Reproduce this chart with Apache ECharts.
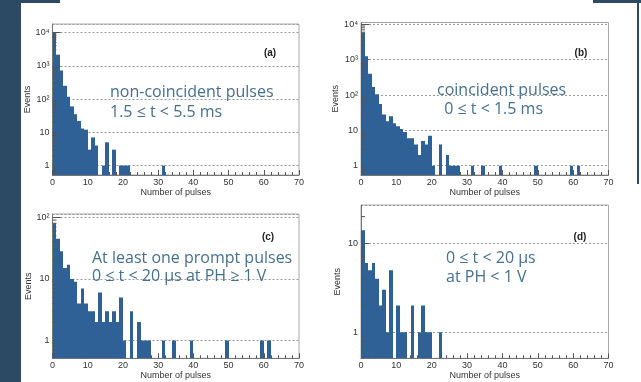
<!DOCTYPE html>
<html>
<head>
<meta charset="utf-8">
<script src="https://cdn.jsdelivr.net/npm/echarts@6/dist/echarts.min.js"></script>
<style>
  html, body { margin: 0; padding: 0; background: #fff; }
  #chart { width: 641px; height: 382px; }
</style>
</head>
<body>
<div id="chart"></div>
<script>
// counts per bin, bin i covers [i, i+1) pulses
const countsA = [10000, 2150, 720, 250, 117, 60, 35, 22, 13, 12, 3, 7, 4, 0, 1, 5, 0, 3, 0, 1, 1, 1];
const singlesA = [31];

const countsB = [5900, 1250, 400, 170, 105, 56, 28, 18, 25, 16, 13, 11, 9, 6, 6, 4, 2, 5, 4, 7, 1, 0, 4, 0, 2, 1, 1, 1];
const singlesB = [31, 34, 39, 49, 59, 61];

const countsC = [80, 45, 28, 15, 17, 10, 9, 4, 7, 4, 3, 3, 2, 6, 2, 3, 2, 3, 2, 5, 1, 0, 3, 0, 2, 1, 1, 1];
const singlesC = [31, 34, 39, 49, 59, 61];

const countsD = [14, 6, 5, 6, 4, 2, 3, 1, 5, 0, 2, 1, 1, 0, 2, 0, 1, 2, 1, 1, 0, 0, 1];
const singlesD = [];

const xTicks = [0, 10, 20, 30, 40, 50, 60, 70];

const BAR_COLOR = '#2f6196';
const NOTE_COLOR = '#46708f';
const SLIDE_DARK = '#2d4a64';
const FONT = '"Liberation Sans", Arial, sans-serif';

const panels = [
  { grid: { left: 52.5, top: 24, width: 246.5, height: 151 }, y: [0.52, 18000], counts: countsA, singles: singlesA, tag: '(a)', tagPos: [270, 53] },
  { grid: { left: 361, top: 22.5, width: 247.5, height: 152.5 }, y: [0.545, 11300], counts: countsB, singles: singlesB, tag: '(b)', tagPos: [581, 53] },
  { grid: { left: 52.5, top: 214, width: 246.5, height: 144.3 }, y: [0.515, 113], counts: countsC, singles: singlesC, tag: '(c)', tagPos: [268, 237] },
  { grid: { left: 361, top: 205, width: 247.5, height: 153.3 }, y: [0.51, 27], counts: countsD, singles: singlesD, tag: '(d)', tagPos: [580, 237] },
];

const notes = [
  ['non-coincident pulses', 110, 92],
  ['1.5 \u2264 t < 5.5 ms', 110, 112],
  ['coincident pulses', 437, 90],
  [' 0 \u2264 t < 1.5 ms', 440, 109],
  ['At least one prompt pulses', 92, 258],
  ['0 \u2264 t < 20 \u00b5s at PH \u2265 1 V', 92, 276],
  ['0 \u2264 t < 20 \u00b5s', 446, 258],
  ['at PH < 1 V', 446, 277],
];

const SUP = { 2: '\u00b2', 3: '\u00b3', 4: '\u2074' };

function logLabel(v) {
  const e = Math.round(Math.log10(v));
  if (Math.abs(Math.log10(v) - e) > 1e-6) return '';
  if (e === 0) return '1';
  if (e === 1) return '10';
  return '10' + SUP[e];
}

// minor log ticks 2..9 per decade, inside the axis range
function minorTicks(range) {
  const out = [];
  for (let e = -1; e <= 4; e++) {
    for (let k = 2; k <= 9; k++) {
      const v = k * Math.pow(10, e);
      if (v > range[0] && v < range[1]) out.push([0, v]);
    }
  }
  return out;
}

// bar edges snapped to whole pixels so neighbouring bins join without seams
function renderBar(params, api) {
  const cs = params.coordSys;
  const bin = api.value(0);
  const top = api.coord([bin, api.value(1)]);
  const right = api.coord([bin + 1, api.value(1)]);
  const x1 = Math.round(top[0]);
  const x2 = Math.round(right[0]);
  return {
    type: 'rect',
    shape: { x: x1, y: top[1], width: x2 - x1, height: cs.y + cs.height - top[1] },
    style: { fill: BAR_COLOR },
  };
}

function renderMinor(params, api) {
  const cs = params.coordSys;
  const p = api.coord([0, api.value(1)]);
  return {
    type: 'line',
    shape: { x1: cs.x, y1: p[1], x2: cs.x + 4, y2: p[1] },
    style: { stroke: '#555', lineWidth: 1 },
  };
}

const grid = [];
const xAxis = [];
const yAxis = [];
const series = [];
const graphic = [];

panels.forEach((p, i) => {
  grid.push(Object.assign({ show: true, borderColor: '#aaa', borderWidth: 1, backgroundColor: '#fff' }, p.grid));

  xAxis.push({
    gridIndex: i,
    type: 'value',
    min: xTicks[0],
    max: xTicks[xTicks.length - 1],
    interval: 10,
    name: 'Number of pulses',
    nameLocation: 'middle',
    nameGap: 13,
    nameTextStyle: { fontSize: 9, color: '#333', fontFamily: FONT },
    axisLine: { lineStyle: { color: '#777' } },
    axisTick: { inside: true, length: 5, lineStyle: { color: '#555' } },
    minorTick: { show: true, splitNumber: 5, length: 3, lineStyle: { color: '#555' } },
    axisLabel: { fontSize: 9, color: '#333', margin: 3, fontFamily: FONT },
    splitLine: { show: false },
  });

  yAxis.push({
    gridIndex: i,
    type: 'log',
    logBase: 10,
    min: p.y[0],
    max: p.y[1],
    name: 'Events',
    nameLocation: 'middle',
    nameGap: 19,
    nameTextStyle: { fontSize: 9, color: '#333', fontFamily: FONT },
    axisLine: { lineStyle: { color: '#777' } },
    axisTick: { inside: true, length: 8, lineStyle: { color: '#555' } },
    axisLabel: { fontSize: 9, color: '#333', margin: 3, fontFamily: FONT, formatter: logLabel, showMinLabel: false, showMaxLabel: false },
    splitLine: { show: true, lineStyle: { color: '#999', type: [2, 2], width: 1 } },
  });

  const data = p.counts
    .map((c, b) => [b, c])
    .filter((d) => d[1] > 0)
    .concat(p.singles.map((b) => [b, 1]));

  series.push({
    type: 'custom',
    xAxisIndex: i,
    yAxisIndex: i,
    renderItem: renderBar,
    data,
    clip: true,
    silent: true,
  });

  series.push({
    type: 'custom',
    xAxisIndex: i,
    yAxisIndex: i,
    renderItem: renderMinor,
    data: minorTicks(p.y),
    silent: true,
    z: 5,
  });

  graphic.push({
    type: 'text',
    style: { text: p.tag, x: p.tagPos[0], y: p.tagPos[1], textAlign: 'center', textVerticalAlign: 'middle', font: 'bold 10px ' + FONT, fill: '#222' },
    z: 10,
  });
});

// slide decoration around the figure
graphic.push(
  { type: 'rect', shape: { x: 0, y: 0, width: 21, height: 382 }, style: { fill: SLIDE_DARK }, z: 20 },
  { type: 'rect', shape: { x: 0, y: 0, width: 60, height: 3 }, style: { fill: SLIDE_DARK }, z: 20 },
  { type: 'rect', shape: { x: 593, y: 0, width: 48, height: 3 }, style: { fill: SLIDE_DARK }, z: 20 },
  { type: 'rect', shape: { x: 637, y: 0, width: 2, height: 184 }, style: { fill: SLIDE_DARK }, z: 20 }
);

notes.forEach(([text, x, y]) => {
  graphic.push({
    type: 'text',
    style: { text, x, y, textVerticalAlign: 'middle', font: '16px "Open Sans", sans-serif', fill: NOTE_COLOR },
    z: 15,
  });
});

const chart = echarts.init(document.getElementById('chart'));
chart.setOption({
  animation: false,
  backgroundColor: '#fff',
  grid,
  xAxis,
  yAxis,
  series,
  graphic,
});
</script>
</body>
</html>
